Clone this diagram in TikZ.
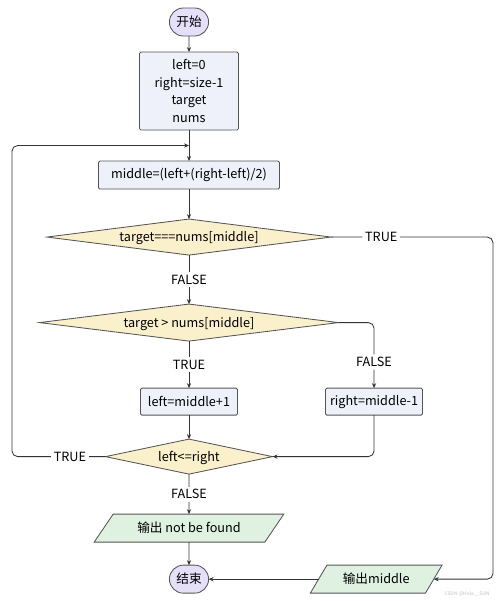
\documentclass[tikz,border=0pt]{standalone}
\usepackage{fontspec}
\setmainfont{Noto Sans CJK SC}
\usetikzlibrary{shapes.geometric, shapes.misc, arrows.meta, positioning, calc}

\definecolor{startfill}{HTML}{E6DFFA}
\definecolor{procfill}{HTML}{EEF1FA}
\definecolor{decfill}{HTML}{FBF0CC}
\definecolor{iofill}{HTML}{DFF2E2}
\definecolor{edge}{HTML}{555555}

\begin{document}
\begin{tikzpicture}[x=0.025cm, y=-0.025cm,
  font=\fontsize{9}{12.6}\selectfont,
  startstop/.style={rounded rectangle, draw=edge, fill=startfill, minimum width=1.05cm, minimum height=0.7cm, inner sep=1pt, outer sep=0pt},
  process/.style={rectangle, rounded corners=1pt, draw=edge, fill=procfill, align=center, inner sep=1pt, outer sep=0pt},
  decision/.style={diamond, draw=edge, fill=decfill, inner sep=0pt, outer sep=0pt, text height=1.5ex, text depth=0.25ex},
  io/.style={trapezium, trapezium stretches=true, draw=edge, fill=iofill, inner sep=0pt, outer sep=0pt},
  lbl/.style={fill=white, inner sep=2pt},
  line/.style={draw=black!80, line width=0.6pt, -{Stealth[length=3.5pt,width=3pt]}},
  line width=0.6pt]

  \useasboundingbox (0,0) rectangle (500,601);

  \node[startstop] (start) at (189,22) {开始};
  \node[process, minimum width=2.475cm, minimum height=1.95cm] (init) [below=0.4cm of start] {left=0\\right=size-1\\target\\nums};
  \node[process, minimum width=4.525cm, minimum height=0.7cm] (mid) [below=0.775cm of init] {middle=(left+(right-left)/2)};
  \node[decision, minimum width=7.1cm, minimum height=0.9cm, aspect=8] (cmpeq) [below=0.75cm of mid] {target===nums[middle]};
  \node[decision, minimum width=7.475cm, minimum height=0.925cm, aspect=8] (cmpgt) [below=1.225cm of cmpeq] {target > nums[middle]};
  \node[process, minimum width=2.425cm, minimum height=0.675cm] (lset) [below=1.175cm of cmpgt] {left=middle+1};
  \node[process, minimum width=2.425cm, minimum height=0.675cm] (rset) [right=2.2cm of lset] {right=middle-1};
  \node[decision, minimum width=4.175cm, minimum height=0.875cm, aspect=5] (cond) [below=0.6cm of lset] {left<=right};
  \node[io, trapezium left angle=42, trapezium right angle=138, minimum width=4.775cm, minimum height=0.7cm] (nf) [below=1cm of cond] {输出 not be found};
  \node[startstop] (stop) [below=0.575cm of nf] {结束};
  \node[io, trapezium left angle=46, trapezium right angle=134, minimum width=3.3cm, minimum height=0.7cm] (out) [right=2.75cm of stop] {输出middle};

  \coordinate (loop) at ($(init.south)!0.5!(mid.north)$);
  \coordinate (farleft) at (12,458);
  \coordinate (farright) at (493,238);

  % main column
  \draw[line] (start) -- (init);
  \draw[line] (init) -- (mid);
  \draw[line] (mid) -- (cmpeq);
  \draw[line] (cmpeq) -- node[lbl]{FALSE} (cmpgt);
  \draw[line] (cmpgt) -- node[lbl]{TRUE} (lset);
  \draw[line] (lset) -- (cond);
  \draw[line] (cond) -- node[lbl]{FALSE} (nf);
  \draw[line] (nf) -- (stop);

  % branches
  \draw[line, rounded corners=4pt] (cmpgt.east) -| node[lbl, pos=0.8]{FALSE} (rset.north);
  \draw[line, rounded corners=4pt] (rset.south) |- (cond.east);
  \draw[line, rounded corners=4pt] (cond.west) -- node[lbl, pos=0.38]{TRUE} (cond.west -| farleft) |- (loop);
  \draw[line, rounded corners=4pt] (cmpeq.east) -- node[lbl, pos=0.31]{TRUE} (cmpeq.east -| farright) |- (out.east);
  \draw[line] (out.west) -- (stop.east);

  \node[text=black!25, font=\fontsize{3.5}{4}\selectfont] (mark) at (467,594) {CSDN @Hola\_\_SUN};
\end{tikzpicture}
\end{document}
